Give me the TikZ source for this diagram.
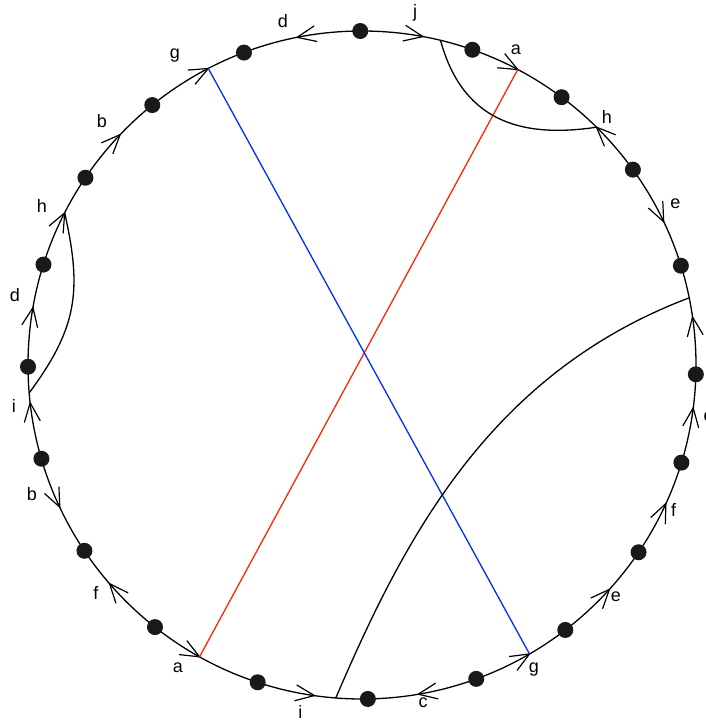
\documentclass[tikz,border=0pt]{standalone}
\usepackage{fontspec}
\setmainfont{Liberation Sans}
\definecolor{chordred}{RGB}{255,40,0}
\definecolor{chordblue}{RGB}{0,45,255}
\begin{document}
\begin{tikzpicture}[x=1pt,y=1pt,
  dot/.style={circle,fill=black!90,inner sep=0pt,minimum size=16pt},
  lbl/.style={inner sep=0pt,font=\fontsize{18}{20}\selectfont},
  rim/.style={line width=1.3pt},
  conn/.style={line width=1.3pt},
  vmark/.pic={\draw[line width=1.2pt,line join=miter] (-19,8)--(0,0)--(-19,-8);}]
\def\R{334}
\useasboundingbox (-362,-358) rectangle (343,365);
\draw[rim] (0,0) circle (\R);
% arrow marks on the rim
\foreach \a/\s in {101.2/1,79.5/-1,62.2/-1,45.4/1,25.4/-1,8.25/1,-7.4/1,-24.5/1,-42.2/1,-59.9/1,-80.3/-1,-98.2/1,-119.1/1,-139.1/-1,-154.8/1,-173.5/-1,170.1/-1,152.9/-1,136.4/-1,117.4/-1}
  {\pic[rotate=\a+\s*90] at (\a:\R) {vmark};}
% end points of the connectors
\coordinate (ra) at (62.2:\R);
\coordinate (rb) at (-119.1:\R);
\coordinate (ba) at (117.4:\R);
\coordinate (bb) at (-59.9:\R);
\coordinate (ja) at (76.4:\R);
\coordinate (ha) at (45.4:\R);
\coordinate (ia) at (-175.2:\R);
\coordinate (hb) at (152.9:\R);
\coordinate (la) at (11.6:\R);
\coordinate (lb) at (-94.5:\R);
% connectors
\draw[conn,chordred] (ra) -- (rb);
\draw[conn,chordblue] (ba) -- (bb);
\draw[conn] (ja) .. controls (100,246) and (156,226) .. (ha);
\draw[conn] (ia) .. controls (-285,36.8) and (-279.6,73.5) .. (hb);
\draw[conn] (la) .. controls (127,-8.6) and (42,-174) .. (lb);
% dots
\foreach \a [count=\k] in {90.3,70.7,53.3,35.8,17.3,-1.6,-17.0,-34.1,-52.5,-70,-89,-108.2,-128.3,-146.2,-163.7,-179.7,162.5,145.9,128.9,110.7}
  {\node[dot] (p\k) at (\a:\R) {};}
% labels
\node[lbl] (ld1) at (-79,343.5) {d};
\node[lbl] (lj)  at (53,352.5) {j};
\node[lbl] (la1) at (154,315) {a};
\node[lbl] (lh1) at (245,248.5) {h};
\node[lbl] (le1) at (313.5,161) {e};
\node[lbl] (lc1) at (346,-52) {c};
\node[lbl] (lf1) at (311.5,-144.5) {f};
\node[lbl] (le2) at (254,-232) {e};
\node[lbl] (lg2) at (172,-304.5) {g};
\node[lbl] (lc2) at (61,-337.5) {c};
\node[lbl] (li2) at (-61.5,-346.5) {i};
\node[lbl] (la2) at (-184,-302.5) {a};
\node[lbl] (lf2) at (-266,-227.5) {f};
\node[lbl] (lb2) at (-330,-129.5) {b};
\node[lbl] (li1) at (-348,-40.5) {i};
\node[lbl] (ld2) at (-347,70) {d};
\node[lbl] (lh2) at (-320,159.5) {h};
\node[lbl] (lb1) at (-260,243.5) {b};
\node[lbl] (lg1) at (-187,309.5) {g};
\end{tikzpicture}
\end{document}
